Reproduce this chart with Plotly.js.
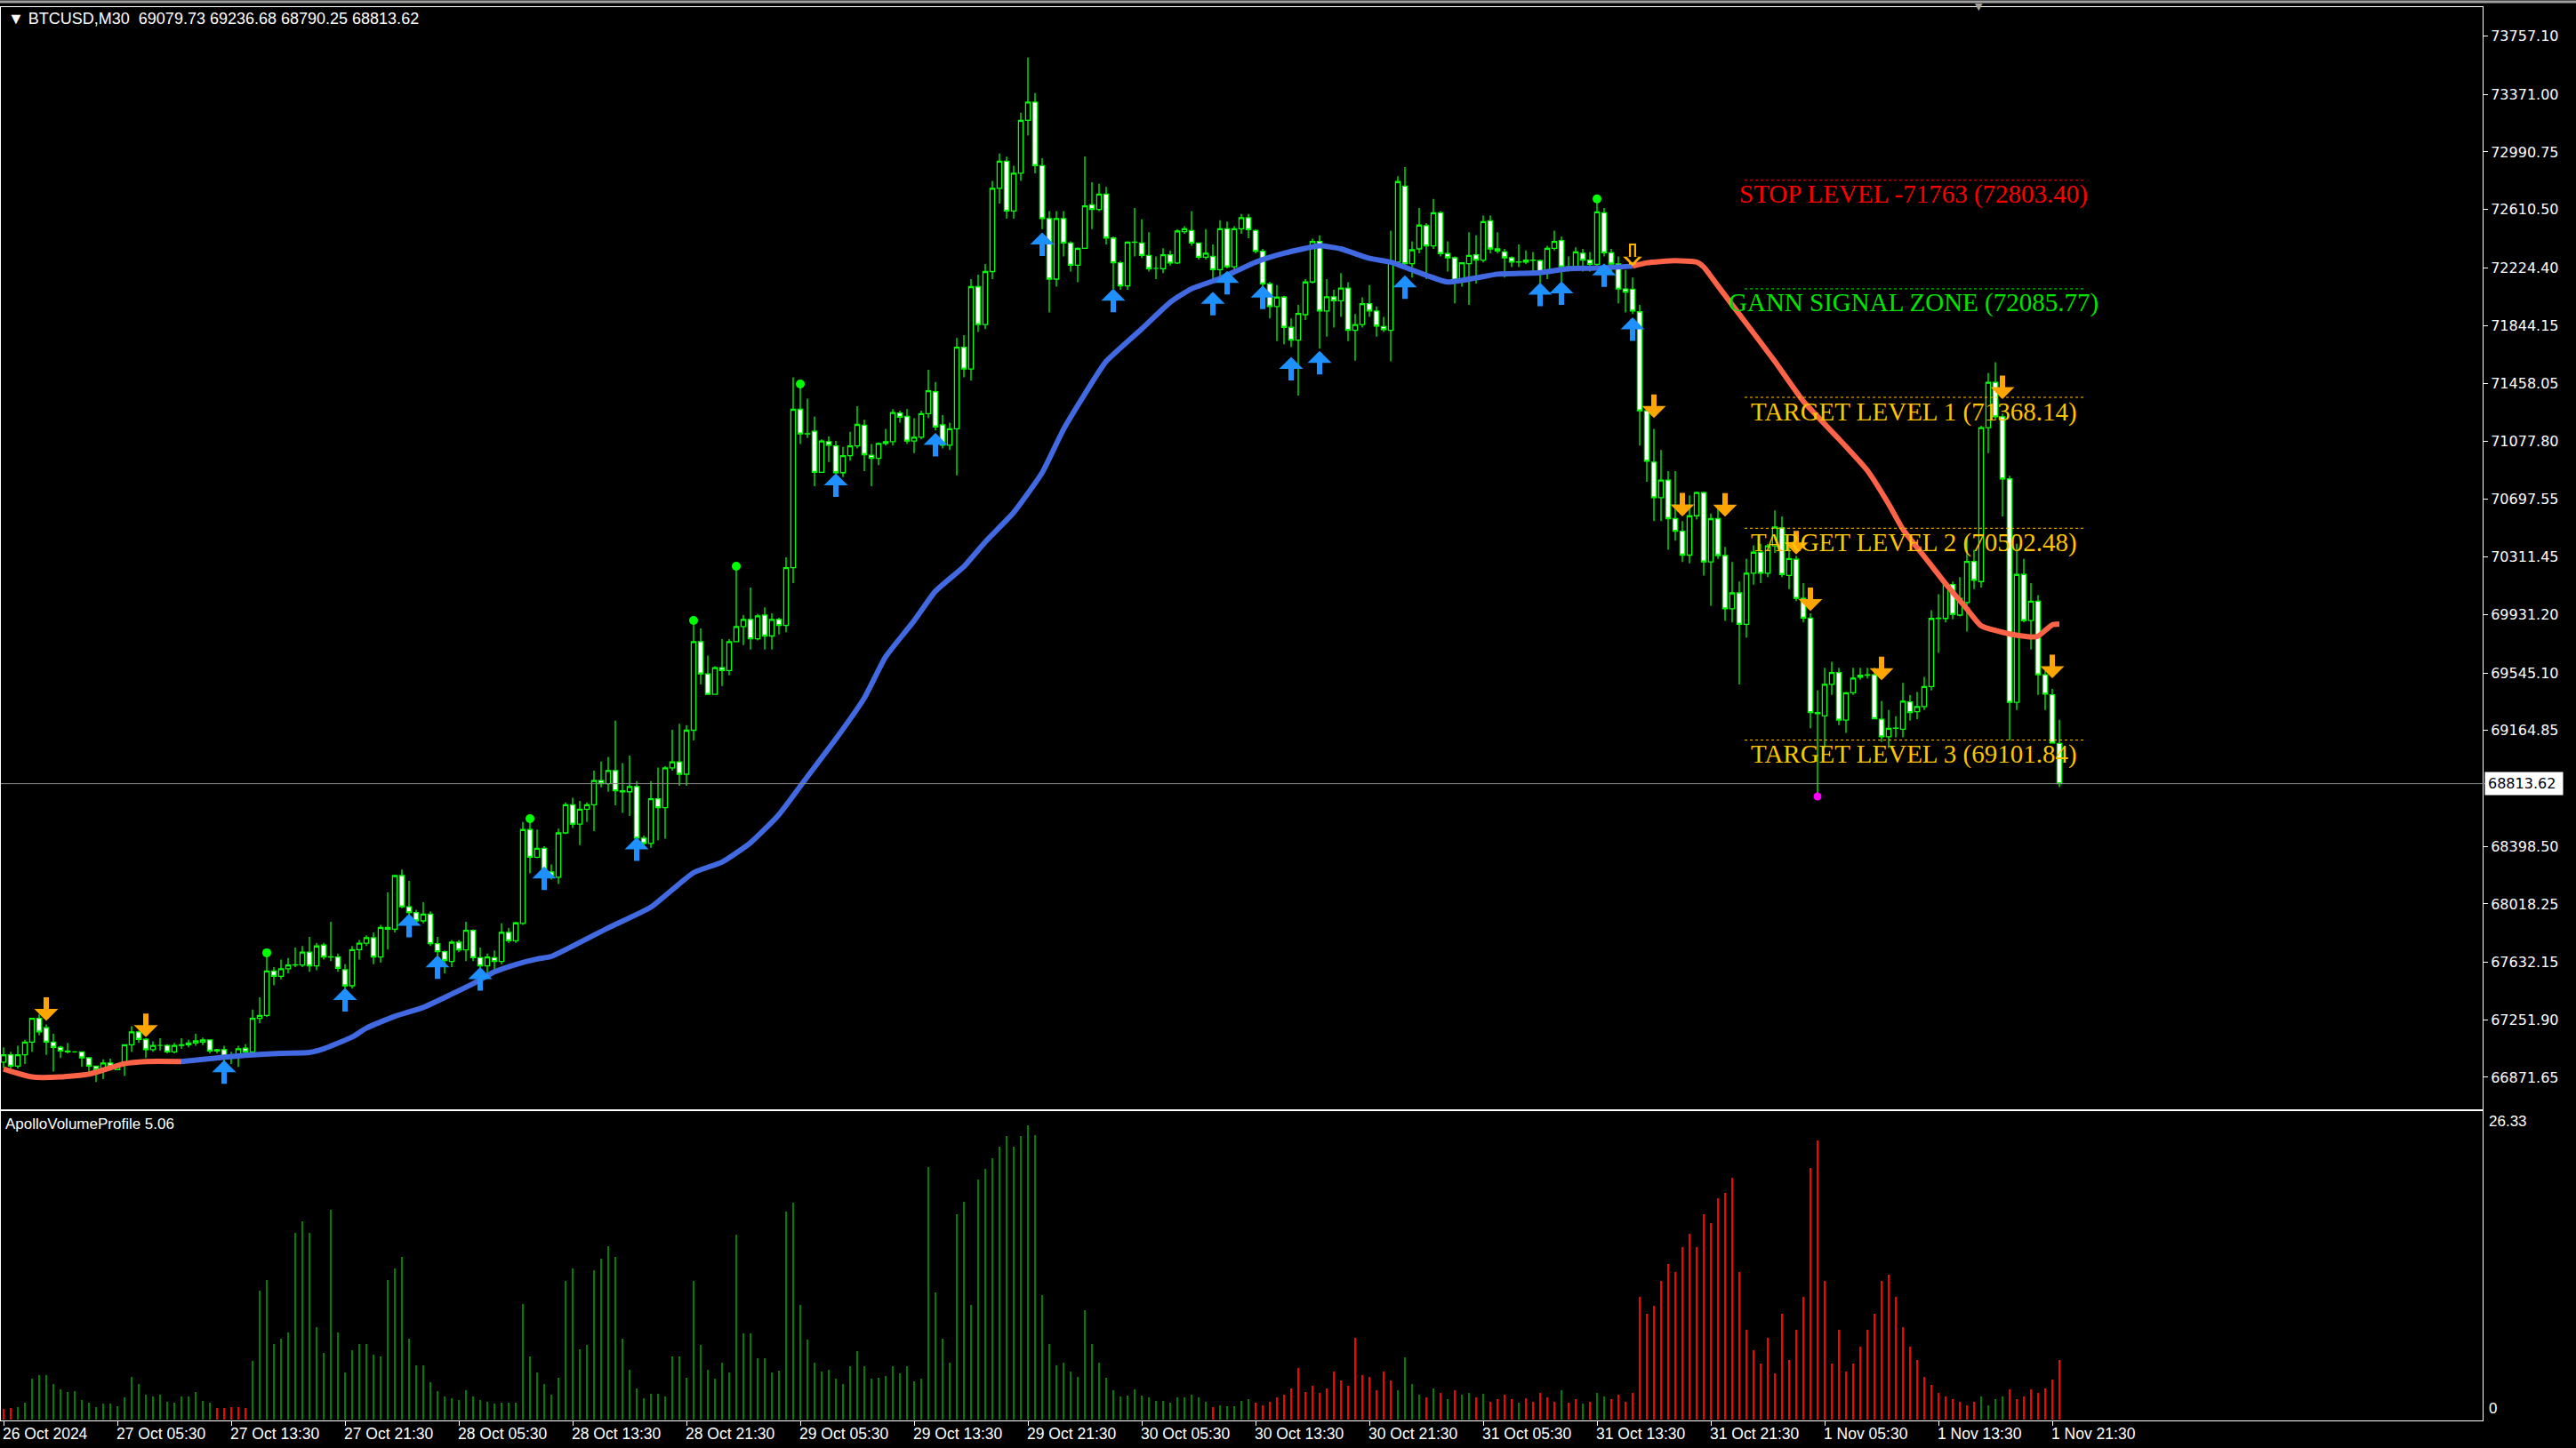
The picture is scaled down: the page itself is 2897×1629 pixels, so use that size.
<!DOCTYPE html>
<html><head><meta charset="utf-8">
<script src="https://cdn.plot.ly/plotly-3.0.1.min.js"></script>
<style>html,body{margin:0;padding:0;background:#000;}#chart{width:2897px;height:1629px;}</style>
</head><body><div id="chart"></div>
<script>
const headerText = "\u25BC BTCUSD,M30\u00A0\u00A069079.73 69236.68 68790.25 68813.62";
const indicatorName = "ApolloVolumeProfile 5.06";
const currentPrice = 68813.62;

const openPrices = [
66972,67021,66946,67021,67105,67262,67200,67105,67070,67046,
67040,67040,67001,66946,66933,66966,66923,66952,67087,67172,
67123,67054,67083,67083,67040,67083,67087,67099,67105,67119,
67046,67054,67001,67021,67064,67040,67262,67281,67575,67540,
67589,67614,67614,67700,67608,67746,67667,67667,67583,67477,
67716,67759,67795,67667,67863,67851,68206,68000,67961,67906,
67951,67755,67702,67638,67765,67714,67844,67663,67608,67663,
67638,67830,67775,67889,68510,68327,68386,68230,68195,68488,
68674,68546,68644,68674,68834,68814,68900,68767,68760,68795,
68453,68418,68714,68655,68918,68958,68876,69167,69753,69539,
69404,69581,69562,69753,69853,69900,69772,69928,69790,69900,
69860,70242,71289,71126,71144,70872,71075,71047,70870,70982,
71047,71184,70986,70965,71063,71075,71265,71242,71079,71105,
71260,71405,71186,71051,71160,71700,71556,72100,71850,72200,
72750,72930,72600,72850,73200,73320,72900,72550,72150,72550,
72389,72242,72354,72642,72611,72712,72422,72258,72105,72395,
72389,72307,72221,72219,72311,72256,72464,72471,72389,72295,
72301,72213,72483,72232,72483,72556,72471,72334,72119,71968,
72031,71831,71747,71915,72131,72399,71939,72033,72007,72091,
71811,71850,71988,71939,71836,71811,72262,72765,72252,72350,
72503,72370,72589,72319,72291,72144,72252,72311,72276,72536,
72350,72330,72291,72262,72262,72276,72272,72193,72354,72405,
72232,72232,72321,72276,72248,72589,72324,72250,72085,72083,
71934,71279,70940,70705,70821,70566,70483,70325,70585,70738,
70280,70566,70322,69970,70075,69867,70205,70344,70205,70386,
70505,70191,70297,70039,69908,69284,69262,69470,69548,69234,
69415,69517,69531,69534,69240,69123,69179,69173,69354,69290,
69323,69456,69906,69906,70130,69928,70011,70283,70150,71168,
71467,71240,70829,69351,70197,69892,70020,69534,69401,69079.73];

const highPrices = [
67070,67040,67080,67120,67262,67290,67222,67160,67080,67100,
67045,67040,67001,66946,66990,66995,66960,67087,67210,67180,
67130,67110,67130,67090,67100,67130,67120,67160,67135,67119,
67060,67080,67040,67080,67090,67320,67400,67690,67600,67650,
67660,67730,67740,67800,67760,67760,67900,67690,67620,67740,
67780,67810,67830,67880,68094,68210,68245,68170,67980,68030,
67970,67800,67710,67780,67780,67900,67850,67730,67690,67710,
67890,67860,67900,68560,68582,68510,68400,68280,68516,68690,
68720,68700,68690,68900,68960,68990,69230,68950,69000,68830,
68470,68830,68920,68930,69170,69210,69200,69893,69840,69660,
69590,69770,69770,70251,69930,70110,69935,69980,69940,69910,
70310,71500,71440,71360,71240,71090,71110,71080,71040,71140,
71310,71220,71060,71070,71160,71290,71280,71290,71230,71280,
71550,71470,71250,71200,71760,71780,72150,72180,72250,72800,
72980,72960,72900,73250,73615,73380,72950,72600,72600,72600,
72400,72360,72961,72790,72780,72760,72430,72270,72400,72620,
72545,72460,72300,72355,72340,72480,72500,72600,72390,72480,
72380,72540,72530,72500,72580,72580,72480,72350,72131,72110,
72040,71890,71980,72150,72418,72440,72150,72080,72190,72130,
71920,72030,72110,71970,71900,72471,72830,72890,72400,72620,
72520,72680,72600,72400,72300,72260,72460,72440,72570,72570,
72460,72350,72300,72380,72340,72330,72280,72370,72470,72430,
72300,72360,72350,72330,72680,72620,72350,72300,72210,72160,
71980,71290,71160,71020,70880,70880,70550,70720,70745,70745,
70600,70640,70380,70280,70150,70300,70390,70400,70400,70620,
70580,70380,70320,70140,69940,69430,69580,69620,69580,69420,
69580,69580,69580,69580,69360,69300,69260,69480,69400,69420,
69520,69960,70067,70140,70150,70180,70440,70360,71180,71530,
71600,71260,70850,70400,70300,70140,70060,69560,69440,69236.68];

const lowPrices = [
66933,66930,66930,66960,67040,67150,67020,66910,67000,67030,
67035,66940,66900,66840,66860,66930,66920,66880,67040,67100,
67000,67040,67050,67030,67030,67060,67070,67080,67085,67030,
67030,66950,66960,66940,67030,67030,67230,67270,67480,67520,
67560,67600,67600,67570,67580,67650,67640,67570,67460,67460,
67650,67740,67620,67630,67716,67830,67990,67940,67880,67890,
67740,67600,67560,67600,67700,67640,67640,67590,67560,67560,
67620,67760,67760,67880,68220,68320,68150,68180,68150,68480,
68520,68407,68560,68500,68790,68760,68670,68620,68600,68440,
68390,68390,68440,68450,68900,68800,68800,69100,69470,69400,
69400,69460,69530,69750,69730,69700,69760,69700,69700,69800,
69815,70140,71060,71100,70780,70870,70940,70860,70840,70950,
71030,70880,70780,70920,71050,71050,71200,71060,71000,71090,
71230,71150,71030,71020,70853,71500,71480,71800,71820,72150,
72650,72550,72550,72800,73100,72850,72480,71930,72100,72300,
72200,72130,72350,72480,72600,72380,72085,72080,72080,72300,
72290,72200,72150,72190,72240,72250,72450,72370,72280,72280,
72120,72130,72220,72200,72450,72420,72320,72070,71890,71740,
71720,71700,71380,71880,72120,71690,71770,71830,71900,71740,
71610,71830,71900,71770,71800,71606,72250,72240,72160,72320,
72150,72350,72300,72200,71990,72100,71980,72120,72260,72320,
72320,72160,72230,72230,72250,72180,72080,72150,72340,72130,
72200,72220,72200,72200,72230,72300,72200,71990,71930,71920,
71050,70810,70550,70550,70360,70420,70280,70270,70560,70190,
69990,70300,69890,69880,69470,69780,70130,70140,70180,70340,
70180,70100,70020,69880,69180,68729,69050,69400,69200,69150,
69400,69500,69510,69240,69090,69050,69120,69120,69230,69240,
69300,69430,69678,69880,69900,69920,69820,70100,70110,71000,
71220,70580,69100,69300,69880,69700,69400,69300,69080,68790.25];

const closePrices = [
67021,66946,67021,67105,67262,67172,67105,67070,67046,67040,
67040,67001,66946,66923,66966,66946,66952,67087,67172,67123,
67054,67083,67083,67040,67083,67087,67099,67113,67119,67046,
67054,67011,67021,67060,67040,67262,67281,67575,67540,67589,
67614,67616,67700,67608,67740,67667,67669,67593,67477,67716,
67759,67795,67667,67863,67851,68206,68000,67961,67906,67951,
67755,67702,67644,67765,67714,67844,67663,67608,67667,67638,
67830,67775,67893,68510,68327,68386,68216,68202,68488,68674,
68546,68644,68674,68834,68814,68900,68767,68760,68795,68453,
68418,68714,68655,68918,68958,68876,69167,69753,69539,69404,
69581,69562,69753,69853,69900,69772,69923,69790,69900,69860,
70242,71289,71126,71128,70872,71079,71051,70870,70982,71047,
71189,70989,70965,71063,71075,71268,71237,71079,71105,71260,
71412,71172,71051,71160,71700,71556,72100,71850,72200,72750,
72930,72600,72850,73200,73320,72900,72550,72150,72550,72389,
72242,72354,72634,72611,72712,72422,72258,72105,72395,72393,
72307,72219,72221,72311,72256,72468,72483,72389,72295,72321,
72213,72483,72232,72483,72556,72477,72334,72119,71968,72031,
71831,71747,71923,72131,72399,71939,72033,72007,72091,71811,
71850,71988,71939,71840,71816,72262,72795,72252,72344,72507,
72370,72589,72319,72291,72144,72258,72307,72276,72530,72350,
72336,72291,72262,72264,72276,72274,72193,72354,72399,72232,
72230,72330,72276,72248,72595,72324,72250,72085,72064,71939,
71279,70946,70705,70821,70566,70483,70325,70585,70738,70280,
70566,70322,69970,70075,69867,70205,70344,70205,70386,70510,
70197,70302,70039,69908,69284,69276,69470,69548,69234,69415,
69512,69531,69534,69243,69123,69179,69181,69359,69284,69323,
69456,69906,69908,70130,69933,70039,70283,70158,71168,71467,
71240,70829,69351,70197,69892,70020,69534,69406,69082,68813.62];

const volumes = [
0.98,1.03,1.12,1.48,3.63,3.96,3.96,3.15,2.71,2.43,
2.57,1.76,1.48,1.12,1.45,1.40,1.20,1.95,3.85,3.15,
2.23,2.09,2.23,1.59,1.54,2.09,2.04,2.48,1.68,1.48,
1.03,1.03,1.12,1.12,1.03,5.22,11.53,12.48,6.78,7.26,
7.82,16.67,17.73,16.67,8.29,5.95,18.76,7.82,4.19,6.23,
6.78,6.78,5.78,5.67,12.48,13.49,14.52,7.26,4.89,4.89,
3.35,2.51,2.09,1.87,1.76,2.65,2.09,1.76,1.59,1.40,
1.54,1.54,1.54,10.33,5.67,4.19,3.15,2.23,3.77,12.37,
13.49,6.28,6.70,13.40,14.43,15.50,14.52,7.26,4.47,2.79,
1.87,2.32,2.32,2.09,5.67,5.67,3.77,12.37,6.70,4.47,
3.63,5.11,4.19,16.53,7.73,7.73,5.50,5.50,4.19,4.38,
18.62,19.40,10.25,7.12,5.11,4.33,4.47,3.63,3.21,4.75,
6.14,4.75,3.63,3.77,3.91,4.75,4.10,4.75,3.43,3.63,
22.62,11.36,7.20,5.11,18.34,19.49,10.25,21.50,22.42,23.40,
24.43,25.35,24.43,25.35,26.33,25.46,11.17,6.78,4.89,5.11,
4.27,3.83,9.77,6.78,5.11,3.71,2.60,2.04,2.18,2.71,
2.18,1.95,1.68,1.68,1.54,1.95,1.95,2.23,1.95,1.59,
1.12,1.26,1.20,1.20,1.68,1.80,1.50,1.30,1.60,2.00,
2.20,2.80,4.60,2.50,3.00,2.40,2.80,4.30,3.50,3.00,
7.30,4.00,3.80,2.60,4.30,3.50,2.60,5.60,3.20,2.20,
2.00,2.80,2.40,1.80,2.60,2.20,2.40,2.00,2.30,1.60,
1.80,2.20,1.80,1.50,1.90,1.60,2.40,2.00,1.60,2.60,
1.50,1.80,1.40,1.60,2.40,2.10,1.80,2.20,1.60,2.40,
10.95,9.50,10.20,12.40,13.90,13.20,15.40,16.60,15.40,18.40,
17.60,19.80,20.30,21.60,13.20,8.00,6.20,5.00,7.30,4.10,
9.50,5.30,8.00,11.00,22.50,25.00,12.40,5.00,8.00,4.30,
5.00,6.50,8.00,9.50,12.40,13.00,11.00,8.30,6.50,5.30,
3.80,3.10,2.40,2.10,1.80,1.60,1.30,1.60,2.10,1.30,
1.80,2.10,2.70,1.80,2.10,2.70,2.40,2.80,3.60,5.30];

// volume bars painted red (inclusive ranges of bar numbers)
const redVolumeRanges = [[0,1],[30,34],[170,170],[176,195],[200,200],[202,202],[204,204],[207,207],
  [209,212],[214,218],[220,221],[223,223],[226,277],[282,289]];

// moving average
const maBars = [0,4,8,12,17,20,25,29,34,39,43,45,49,51,55,59,63,66,69,72,75,77,85,91,97,101,105,109,113,117,
  121,124,128,131,135,138,142,146,149,152,155,160,164,167,171,176,180,185,188,192,195,199,203,207,210,216,220,224,229,231,235,238,
  239,241,245,249,253,258,262,265,267,270,273,276,278,282,285,286,288,289];
const maValues = [66927,66874,66874,66893,66962,66976,66976,66995,67017,67031,67036,67060,67138,67197,67275,67334,67422,67491,67569,67618,
  67654,67671,67860,67997,68225,68295,68423,68609,68860,69109,
  69380,69652,69891,70086,70249,70412,70607,70870,71156,71390,71606,71821,71997,72086,72154,72262,72321,72370,72350,72287,
  72262,72193,72131,72158,72183,72193,72219,72223,72236,72258,72272,72263,
  72230,72105,71856,71606,71343,71093,70885,70663,70496,70316,70136,69969,69858,69803,69784,69789,69864,69869];
const maBlueFrom = 25, maBlueTo = 229;

// signal arrows (tip prices)
const buyArrowBars = [31,48,57,61,67,76,89,117,131,146,156,170,172,177,181,185,197,216,219,225,229];
const buyArrowTips = [66985,67463,67953,67679,67600,68266,68458,70865,71133,72459,72087,72067,72204,72107,71636,71676,72175,72126,72136,72254,71898];
const sellArrowBars = [6,20,232,236,242,252,254,264,281,288];
const sellArrowTips = [67245,67137,71231,70580,70579,70329,69955,69497,71356,69511];
const hollowSellBars = [229], hollowSellTips = [72235];

// fractal dots
const greenDotBars = [37,74,97,103,112,224];
const greenDotPrices = [67695,68582,69893,70251,71456,72681];
const magentaDotBars = [255];
const magentaDotPrices = [68729];

// level lines
const levelNames = ["STOP LEVEL -71763 (72803.40)","GANN SIGNAL ZONE (72085.77)","TARGET LEVEL 1 (71368.14)","TARGET LEVEL 2 (70502.48)","TARGET LEVEL 3 (69101.84)"];
const levelValues = [72803.40, 72085.77, 71368.14, 70502.48, 69101.84];
const levelColors = ["#FF0000","#00E400","#FFC400","#FFC400","#FFC400"];
const levelFromBar = 244.75, levelToBar = 292.4, levelLabelBar = 268.5;

// axes
const priceTicks = [73757.10,73371.00,72990.75,72610.50,72224.40,71844.15,71458.05,71077.80,70697.55,70311.45,
  69931.20,69545.10,69164.85,68398.50,68018.25,67632.15,67251.90,66871.65];
const timeTickBars = [0,16,32,48,64,80,96,112,128,144,160,176,192,208,224,240,256,272,288];
const timeTickLabels = ["26 Oct 2024","27 Oct 05:30","27 Oct 13:30","27 Oct 21:30","28 Oct 05:30","28 Oct 13:30","28 Oct 21:30",
  "29 Oct 05:30","29 Oct 13:30","29 Oct 21:30","30 Oct 05:30","30 Oct 13:30","30 Oct 21:30","31 Oct 05:30","31 Oct 13:30",
  "31 Oct 21:30","1 Nov 05:30","1 Nov 13:30","1 Nov 21:30"];
const volumeMax = 26.33;

const bars = closePrices.map((_, i) => i);
const isRed = i => redVolumeRanges.some(r => i >= r[0] && i <= r[1]);
const volColors = bars.map(i => isRed(i) ? "#FF0000" : "#008000");

const maBlueX = [], maBlueY = [], maRedX = [], maRedY = [];
maBars.forEach((b, k) => {
  if (b >= maBlueFrom && b <= maBlueTo) { maBlueX.push(b); maBlueY.push(maValues[k]); }
});
maBars.forEach((b, k) => { if (b <= maBlueFrom) { maRedX.push(b); maRedY.push(maValues[k]); } });
maRedX.push(null); maRedY.push(null);
maBars.forEach((b, k) => { if (b >= maBlueTo) { maRedX.push(b); maRedY.push(maValues[k]); } });

const SANS = "'Liberation Sans', 'DejaVu Sans', sans-serif";
const traces = [
  {type:"candlestick", x:bars, open:openPrices, high:highPrices, low:lowPrices, close:closePrices,
   xaxis:"x", yaxis:"y", whiskerwidth:0, hoverinfo:"skip",
   increasing:{line:{color:"#00FF00", width:1.3}, fillcolor:"#000000"},
   decreasing:{line:{color:"#00FF00", width:1.3}, fillcolor:"#FFFFFF"}},
  {type:"scatter", mode:"lines", x:maRedX, y:maRedY, xaxis:"x", yaxis:"y", connectgaps:false,
   line:{color:"#FF6347", width:6, shape:"spline", smoothing:0.5}, hoverinfo:"skip"},
  {type:"scatter", mode:"lines", x:maBlueX, y:maBlueY, xaxis:"x", yaxis:"y",
   line:{color:"#4169E1", width:6, shape:"spline", smoothing:0.5}, hoverinfo:"skip"},
  {type:"scatter", mode:"markers", x:greenDotBars, y:greenDotPrices, xaxis:"x", yaxis:"y",
   marker:{color:"#00FF00", size:10}, hoverinfo:"skip"},
  {type:"scatter", mode:"markers", x:magentaDotBars, y:magentaDotPrices, xaxis:"x", yaxis:"y",
   marker:{color:"#FF00FF", size:9}, hoverinfo:"skip"},
  {type:"bar", x:bars, y:volumes, xaxis:"x2", yaxis:"y2", width:0.36,
   marker:{color:volColors, line:{width:0}}, hoverinfo:"skip"}
];

const arrowStyle = {showarrow:true, arrowhead:1, arrowsize:0.75, arrowwidth:6, standoff:0, ax:0, text:"", borderpad:0};
const annotations = [];
buyArrowBars.forEach((b, k) => annotations.push(Object.assign({}, arrowStyle,
  {x:b, y:buyArrowTips[k], xref:"x", yref:"y", arrowcolor:"#1E90FF", ay:27})));
sellArrowBars.forEach((b, k) => annotations.push(Object.assign({}, arrowStyle,
  {x:b, y:sellArrowTips[k], xref:"x", yref:"y", arrowcolor:"#FFA500", ay:-27})));
// hollow (outlined) sell arrow: gold arrow with a black arrow inside
hollowSellBars.forEach((b, k) => {
  annotations.push({x:b, y:hollowSellTips[k], xref:"x", yref:"y", text:"", borderpad:0, showarrow:true, standoff:0,
    arrowhead:1, arrowsize:0.45, arrowwidth:8, arrowcolor:"#FFB000", ax:0, ay:-26});
  annotations.push({x:b, y:hollowSellTips[k], xref:"x", yref:"y", text:"", borderpad:0, showarrow:true, standoff:0,
    arrowhead:1, arrowsize:0.62, arrowwidth:3.5, arrowcolor:"#000000", ax:0, ay:-20, yshift:4});
});
levelNames.forEach((t, k) => annotations.push({x:levelLabelBar, y:levelValues[k], xref:"x", yref:"y", text:t,
  showarrow:false, yanchor:"middle", yshift:-16, font:{family:"'Liberation Serif', 'DejaVu Serif', serif", size:29, color:levelColors[k]}}));
timeTickBars.forEach((b, k) => annotations.push({x:b, xref:"x2", y:0, yref:"paper", yanchor:"top", xanchor:"left",
  xshift:-3, yshift:-3, text:timeTickLabels[k], showarrow:false, font:{family:SANS, size:17.5, color:"#FFFFFF"}}));
annotations.push({xref:"paper", x:0, xanchor:"left", xshift:6, yref:"paper", y:1, yanchor:"top", yshift:-1,
  text:headerText, showarrow:false, font:{family:SANS, size:18, color:"#FFFFFF"}});
annotations.push({xref:"paper", x:0, xanchor:"left", xshift:3, yref:"paper", y:0.21887, yanchor:"top", yshift:-3,
  text:indicatorName, showarrow:false, font:{family:SANS, size:17, color:"#FFFFFF"}});
annotations.push({xref:"paper", x:1, xanchor:"left", xshift:5, yref:"y2", y:volumeMax, yanchor:"middle", yshift:4,
  text:volumeMax.toFixed(2), showarrow:false, font:{family:SANS, size:17, color:"#FFFFFF"}});
annotations.push({xref:"paper", x:1, xanchor:"left", xshift:5, yref:"y2", y:0, yanchor:"middle", yshift:12,
  text:"0", showarrow:false, font:{family:SANS, size:17, color:"#FFFFFF"}});
annotations.push({xref:"paper", x:1, xanchor:"left", xshift:2, yref:"y", y:currentPrice, yanchor:"middle",
  text:currentPrice.toFixed(2) + "\u00A0", showarrow:false, bgcolor:"#FFFFFF", borderpad:3,
  font:{family:"'DejaVu Sans', sans-serif", size:16, color:"#000000"}});
annotations.push({xref:"paper", x:0.7994, yref:"paper", y:1, yanchor:"middle", yshift:1, text:"\u25BC",
  showarrow:false, font:{family:"'DejaVu Sans', sans-serif", size:11, color:"#A0A0A0"}});

const shapes = [];
levelValues.forEach((v, k) => shapes.push({type:"line", xref:"x", yref:"y", x0:levelFromBar, x1:levelToBar, y0:v, y1:v,
  line:{color:levelColors[k], width:1, dash:"dot"}}));
shapes.push({type:"line", xref:"paper", yref:"y", x0:0, x1:1.001, y0:currentPrice, y1:currentPrice,
  line:{color:"#8C8C8C", width:1}});
shapes.push({type:"line", xref:"paper", yref:"paper", x0:-0.01, x1:1.05, y0:1.0038, y1:1.0038,
  line:{color:"#A0A0A0", width:3}});

const layout = {
  width:2897, height:1629, paper_bgcolor:"#000000", plot_bgcolor:"#000000",
  margin:{l:1, r:105, t:8, b:31, pad:0}, showlegend:false, boxgap:0.35, boxgroupgap:0, bargap:0,
  xaxis:{domain:[0,1], range:[-0.375, 348.5], anchor:"y", showgrid:false, zeroline:false,
    showticklabels:false, ticks:"", showline:true, mirror:true, linecolor:"#FFFFFF", linewidth:1,
    rangeslider:{visible:false}},
  xaxis2:{domain:[0,1], range:[-0.375, 348.5], anchor:"y2", matches:"x", showgrid:false, zeroline:false,
    tickmode:"array", tickvals:timeTickBars, ticktext:timeTickBars.map(() => ""), ticks:"outside",
    ticklen:5, tickcolor:"#FFFFFF", showline:true, mirror:true, linecolor:"#FFFFFF", linewidth:1},
  yaxis:{domain:[0.22013,1], range:[66660.0, 73948.7], side:"right", anchor:"x", showgrid:false, zeroline:false,
    tickmode:"array", tickvals:priceTicks, ticktext:priceTicks.map(v => v.toFixed(2)), ticks:"outside",
    ticklen:5, tickcolor:"#FFFFFF", tickfont:{family:"'DejaVu Sans', sans-serif", size:16, color:"#FFFFFF"},
    showline:true, mirror:true, linecolor:"#FFFFFF", linewidth:1},
  yaxis2:{domain:[0,0.21887], range:[-0.08, 27.6], side:"right", anchor:"x2", showgrid:false, zeroline:false,
    showticklabels:false, ticks:"", showline:true, mirror:true, linecolor:"#FFFFFF", linewidth:1},
  annotations:annotations, shapes:shapes
};

Plotly.newPlot("chart", traces, layout, {staticPlot:true, displayModeBar:false});
</script>
</body></html>
